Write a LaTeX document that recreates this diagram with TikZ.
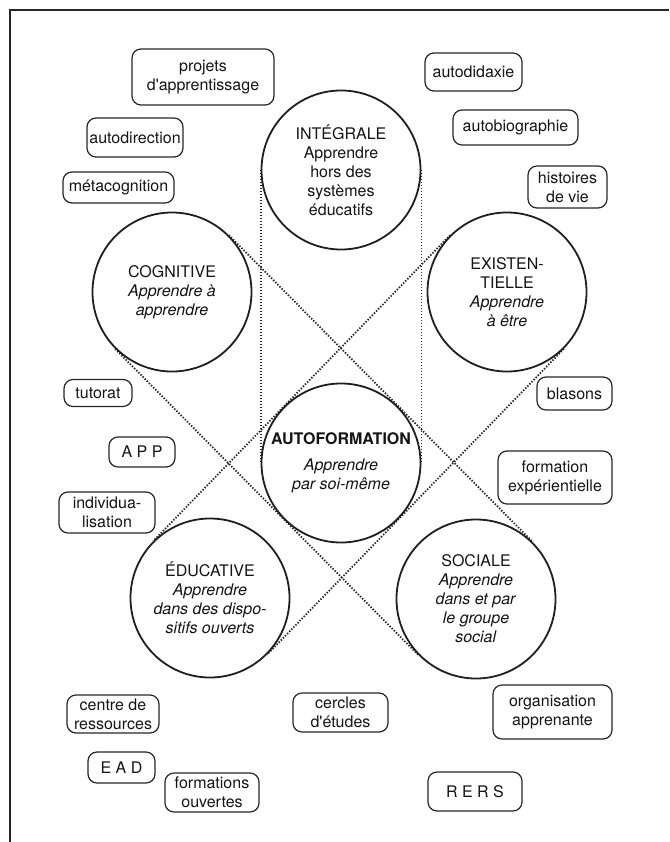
\documentclass[tikz,border=0pt]{standalone}
\usepackage{fontspec}
\setmainfont{TeX Gyre Heros}
\usetikzlibrary{backgrounds}
\begin{document}
\begin{tikzpicture}[x=1pt,y=-1pt,
  circ/.style={circle, draw=black!88, line width=1.8pt, fill=white, minimum size=159pt, inner sep=0pt, align=center, font=\fontsize{16}{19}\selectfont, text=black!92},
  tag/.style={draw=black!85, line width=1.2pt, rounded corners=9pt, inner sep=0pt, align=center, font=\fontsize{16}{19}\selectfont, text=black!92},
  dotline/.style={line width=1.8pt, dash pattern=on 1.4pt off 1.6pt, black!85},
  frameline/.style={line width=2pt, black!85}
]
\useasboundingbox (0,0) rectangle (669,842);
\draw[frameline] (10,842) -- (10,10) -- (669,10);

% circles
\node[circ] (integ) at (341,170) {INTÉGRALE\\Apprendre\\hors des\\systèmes\\éducatifs};
\node[circ] (cogn) at (172,292) {COGNITIVE\\\textit{Apprendre à}\\\textit{apprendre}};
\node[circ] (exist) at (507,292) {EXISTEN-\\TIELLE\\\textit{Apprendre}\\\textit{à être}};
\node[circ] (auto) at (341,463) {\textbf{AUTOFORMATION}\\[7pt]\textit{Apprendre}\\\textit{par soi-même}};
\node[circ] (educ) at (210,598) {ÉDUCATIVE\\\textit{Apprendre}\\\textit{dans des dispo-}\\\textit{sitifs ouverts}};
\node[circ] (soc) at (476,599) {SOCIALE\\\textit{Apprendre}\\\textit{dans et par}\\\textit{le groupe}\\\textit{social}};

% dotted tangent lines, behind the circles
\begin{scope}[on background layer]
\draw[dotline] (integ.180) -- (auto.180);
\draw[dotline] (integ.0) -- (auto.0);
\draw[dotline] (cogn.45) -- (soc.45);
\draw[dotline] (cogn.225) -- (soc.225);
\draw[dotline] (exist.135) -- (educ.135);
\draw[dotline] (exist.-45) -- (educ.-45);
\end{scope}

% tags
\node[tag, minimum width=142pt, minimum height=56pt] (projets) at (203,77) {projets\\d\textquotesingle apprentissage};
\node[tag, minimum width=96pt, minimum height=39pt] (autodir) at (135,137.5) {autodirection};
\node[tag, minimum width=111pt, minimum height=31pt] (meta) at (118.5,187.5) {métacognition};
\node[tag, minimum width=97pt, minimum height=38pt] (autodid) at (473.5,72) {autodidaxie};
\node[tag, minimum width=125pt, minimum height=35pt] (autobio) at (515.5,127.5) {autobiographie};
\node[tag, minimum width=79pt, minimum height=42pt] (hist) at (567.5,187) {histoires\\de vie};
\node[tag, minimum width=68pt, minimum height=27pt] (tut) at (98,393) {tutorat};
\node[tag, minimum width=66pt, minimum height=30pt] (app) at (142,452) {A P P};
\node[tag, minimum width=96pt, minimum height=41pt] (indiv) at (107,512.5) {individua-\\lisation};
\node[tag, minimum width=75pt, minimum height=33pt] (blas) at (574.5,393.5) {blasons};
\node[tag, minimum width=114pt, minimum height=53pt] (fexp) at (555,477.5) {formation\\expérientielle};
\node[tag, minimum width=92pt, minimum height=38pt] (centre) at (113,714) {centre de\\ressources};
\node[tag, minimum width=67pt, minimum height=31pt] (ead) at (121.5,767.5) {E A D};
\node[tag, minimum width=94pt, minimum height=39pt] (fouv) at (212,792.5) {formations\\ouvertes};
\node[tag, minimum width=95pt, minimum height=39pt] (cercles) at (340.5,712.5) {cercles\\d\textquotesingle études};
\node[tag, minimum width=119pt, minimum height=54pt] (orga) at (552.5,712) {organisation\\apprenante};
\node[tag, minimum width=94pt, minimum height=39pt] (rers) at (475,791.5) {R E R S};
\end{tikzpicture}
\end{document}
